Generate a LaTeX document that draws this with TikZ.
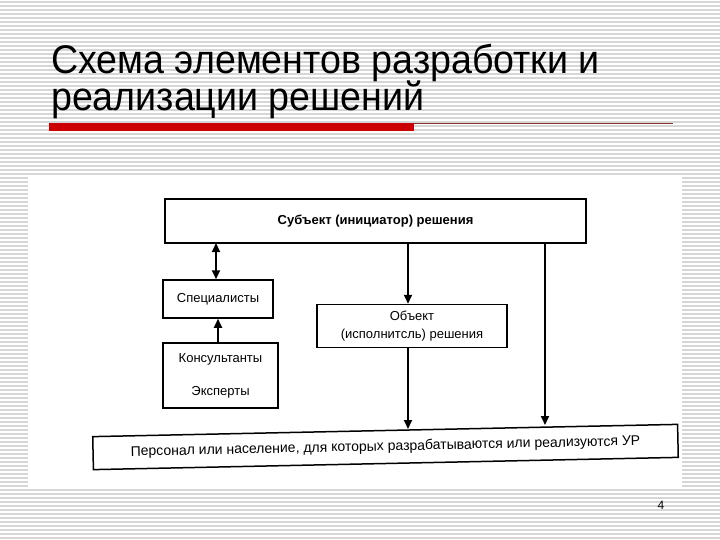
\documentclass[tikz,border=0pt]{standalone}
\usepackage{fontspec}
\setmainfont{Liberation Sans}
\usetikzlibrary{arrows.meta}
\definecolor{stripe}{HTML}{D6D6D6}
\definecolor{titlered}{HTML}{CC0000}
\definecolor{thinred}{HTML}{8B3030}
\tikzset{
  box/.style={draw=black, line width=1.5pt, fill=white, inner sep=0pt, font=\fontsize{13}{15}\selectfont, align=center},
  conn/.style={line width=1.8pt, -{Triangle[length=9pt,width=8pt]}},
  biconn/.style={line width=1.8pt, {Triangle[length=9pt,width=8pt]}-{Triangle[length=9pt,width=8pt]}},
  titletext/.style={anchor=base west, inner sep=0pt, font=\fontsize{40}{40}\selectfont, xscale=0.94},
}
\begin{document}
\begin{tikzpicture}[x=1pt,y=-1pt]
\useasboundingbox (0,0) rectangle (720,540);
\fill[white] (0,0) rectangle (720,540);
\foreach \k in {0,...,134} {
  \draw[stripe, line width=1.2pt] (0,{2+4*\k}) -- (720,{2+4*\k});
}
\fill[white] (28,175) rectangle (682,487);
% title
\node[titletext] (t1) at (51,74) {Схема элементов разработки и};
\node[titletext] (t2) at (51,111) {реализации решений};
\fill[titlered] (49,123) rectangle (414,131);
\draw[thinred, line width=1pt] (414,123.5) -- (673,123.5);
% diagram
\node[box, minimum width=421pt, minimum height=44pt, font=\bfseries\fontsize{13}{15}\selectfont] (subj) at (375.5,221) {Субъект (инициатор) решения};
\node[box, minimum width=110pt, minimum height=38pt] (spec) at (218,299) {Специалисты};
\node[box, minimum width=190pt, minimum height=43pt, font=\fontsize{13}{18}\selectfont] (obj) at (412,326) {Объект\\(исполнитсль) решения};
\node[box, minimum width=115pt, minimum height=65pt, font=\fontsize{13}{33}\selectfont] (kons) at (220.5,375.5) {Консультанты\\Эксперты};
\node[box, minimum width=585pt, minimum height=33pt, rotate=1.2, font=\fontsize{14}{16}\selectfont] (pers) at (385.5,447) {Персонал или население, для которых разрабатываются или реализуются УР};
% connectors
\coordinate (b1) at (216,243);
\draw[biconn] (b1) -- (b1 |- spec.north);
\coordinate (b2) at (218,343);
\draw[conn] (b2) -- (b2 |- spec.south);
\coordinate (a1) at (408,243);
\draw[conn] (a1) -- (a1 |- obj.north);
\coordinate (a2) at (408,347);
\draw[conn] (a2) -- (408,429);
\coordinate (a3) at (545,243);
\draw[conn] (a3) -- (545,425);
% page number
\node[font=\fontsize{12}{12}\selectfont, inner sep=0pt] (pg) at (661,505) {4};
\end{tikzpicture}
\end{document}
